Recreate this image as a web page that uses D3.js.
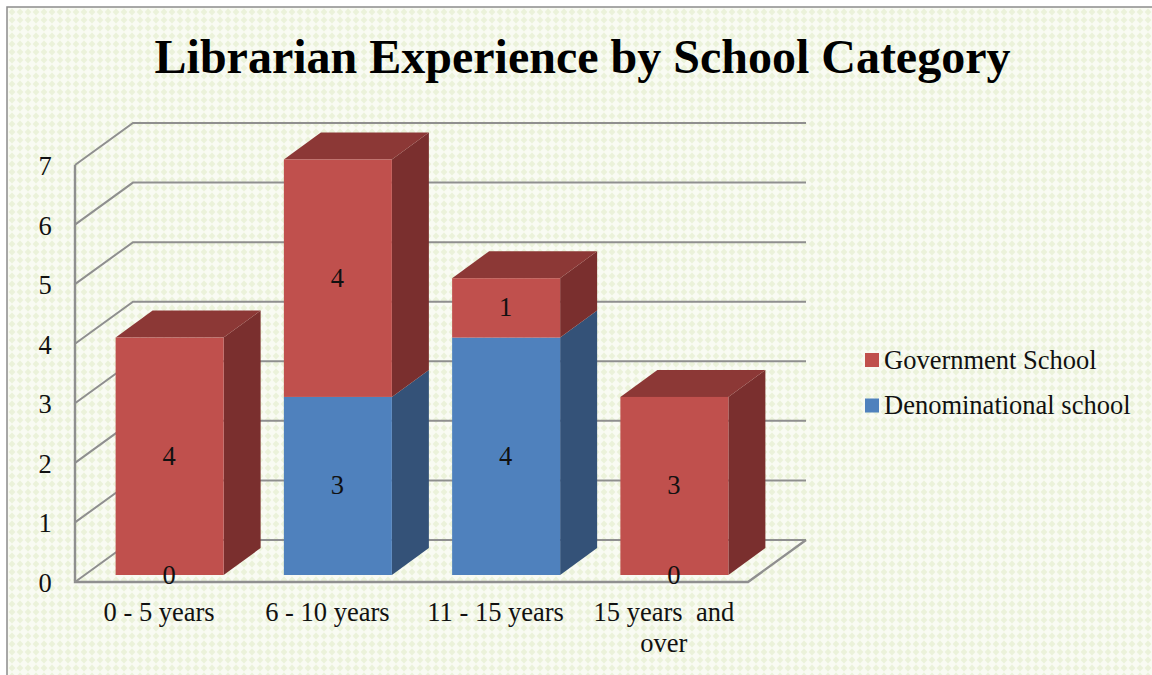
<!DOCTYPE html>
<html><head><meta charset="utf-8">
<script src="https://cdnjs.cloudflare.com/ajax/libs/d3/7.8.5/d3.min.js"></script>
<style>html,body{margin:0;padding:0;background:#fff}svg{display:block}text{font-family:"Liberation Serif","Times New Roman",serif;fill:#111}</style>
</head><body><div id="c"></div>
<script>
const categories = ["0 - 5 years","6 - 10 years","11 - 15 years","15 years  and over"];
const government = [4,4,1,3];
const denominational = [0,3,4,0];
const yTicks = [0,1,2,3,4,5,6,7];
const title = "Librarian Experience by School Category";
const seriesNames = ["Government School","Denominational school"];

const W=1152,H=675;
const svg=d3.select("#c").append("svg").attr("width",W).attr("height",H);
const defs=svg.append("defs");
const pat=defs.append("pattern").attr("id","bg").attr("patternUnits","userSpaceOnUse").attr("width",8).attr("height",8);
pat.append("rect").attr("width",8).attr("height",8).attr("fill","#f9fbf3");
pat.append("path").attr("d","M4 0.6L7.4 4L4 7.4L0.6 4Z").attr("fill","#ebf2da");
svg.append("rect").attr("x",7).attr("y",7).attr("width",W).attr("height",H).attr("fill","url(#bg)").attr("stroke","#8c8c8c").attr("stroke-width",1.5);

const x=d3.scaleBand().domain(categories).range([75,748]);
const y=d3.scaleLinear().domain([0,7]).range([582,165]);
const yb=d3.scaleLinear().domain([0,7]).range([575,159.5]);
const dx=58,dy=-42,bx=37,by=-27,bw=108;
const grid=svg.append("g").attr("fill","none").attr("stroke","#8f8f8f").attr("stroke-width",2);
grid.selectAll("path").data(yTicks).join("path")
 .attr("d",d=>`M75 ${y(d)}L${75+dx} ${y(d)+dy}L806 ${y(d)+dy}`);
grid.append("path").attr("d",`M75 ${y(7)}L75 ${y(0)}L748 ${y(0)}L806 ${y(0)+dy}`).attr("stroke-width",2.4);

const colors={g:["#c0504d","#8c3836","#7a2f2e"],d:["#4f81bd","#3f6797","#345278"]};
function box(g,cat,v0,v1,c,top){
  const l=x(cat)+(x.bandwidth()-bw)/2+10.5, r=l+bw, t=yb(v1), b=yb(v0);
  g.append("path").attr("d",`M${r} ${b}L${r+bx} ${b+by}L${r+bx} ${t+by}L${r} ${t}Z`).attr("fill",c[2]);
  if(top)g.append("path").attr("d",`M${l} ${t}L${l+bx} ${t+by}L${r+bx} ${t+by}L${r} ${t}Z`).attr("fill",c[1]);
  g.append("rect").attr("x",l).attr("y",t).attr("width",bw).attr("height",b-t).attr("fill",c[0]);
}
const bars=svg.append("g");
categories.forEach((cat,i)=>{
  const d=denominational[i],g=government[i];
  const gr=bars.append("g");
  if(d>0)box(gr,cat,0,d,colors.d,false);
  box(gr,cat,d,d+g,colors.g,true);
});
const fs=26.5;
const labels=svg.append("g").attr("font-size",fs).attr("text-anchor","middle");
categories.forEach((cat,i)=>{
  const cx=x(cat)+x.bandwidth()/2+10,d=denominational[i],g=government[i];
  labels.append("text").attr("x",cx).attr("y",yb(d/2)+8.5).text(d);
  labels.append("text").attr("x",cx).attr("y",yb(d+g/2)+8.5).text(g);
});
const ya=svg.append("g").attr("font-size",fs).attr("text-anchor","middle");
ya.selectAll("text").data(yTicks).join("text").attr("x",45).attr("y",d=>y(d)+10).text(d=>d);
const xa=svg.append("g").attr("font-size",fs).attr("text-anchor","middle");
categories.forEach((cat,i)=>{
  const cx=x(cat)+x.bandwidth()/2;
  if(i<3) xa.append("text").attr("x",cx).attr("y",621).attr("xml:space","preserve").text(cat);
  else {
    xa.append("text").attr("x",cx).attr("y",621).attr("xml:space","preserve").text("15 years  and");
    xa.append("text").attr("x",cx).attr("y",652).text("over");
  }
});
svg.append("text").attr("x",582.5).attr("y",72.5).attr("text-anchor","middle").attr("font-size",48).attr("font-weight","bold").style("fill","#000").text(title);
const lg=svg.append("g").attr("font-size",fs);
seriesNames.forEach((n,i)=>{
  const yy=[360,405.5][i];
  lg.append("rect").attr("x",865).attr("y",yy-7).attr("width",14).attr("height",14).attr("fill",i?colors.d[0]:colors.g[0]);
  lg.append("text").attr("x",884).attr("y",yy+8.5).text(n);
});
</script></body></html>
